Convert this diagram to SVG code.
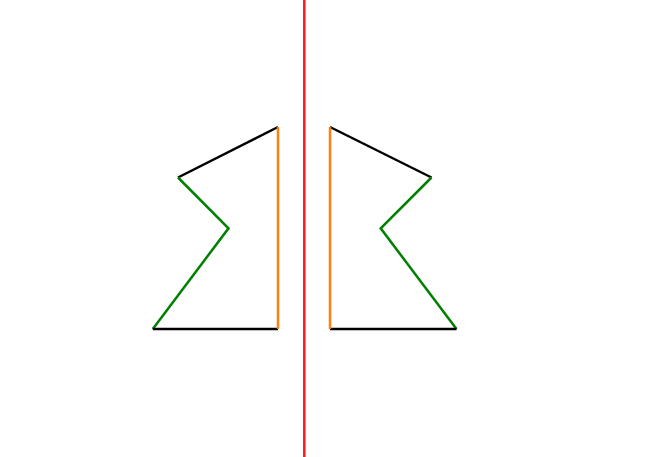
<svg xmlns="http://www.w3.org/2000/svg" width="660" height="457" viewBox="0 0 660 457">
<style>
line, polyline { fill: none; stroke-width: 2.5; stroke-linecap: butt; stroke-linejoin: miter; }
.k { stroke: #000000; }
.g { stroke: #008000; }
.o { stroke: #ff7f0e; }
.r { stroke: #ff1a1a; }
</style>
<rect width="660" height="457" fill="#ffffff"/>
<g id="axis">
<line class="r" x1="304.3" y1="0" x2="304.3" y2="457"/>
</g>
<g id="left-shape">
<line class="k" x1="278" y1="127" x2="178" y2="177.5"/>
<polyline class="g" points="178,177.5 228.5,228.3 152.8,329"/>
<line class="k" x1="152.8" y1="329" x2="278" y2="329"/>
<line class="o" x1="278" y1="127" x2="278" y2="329"/>
</g>
<g id="right-shape">
<line class="k" x1="330" y1="127" x2="431.5" y2="177.5"/>
<polyline class="g" points="431.5,177.5 380.7,228.3 456.5,329"/>
<line class="k" x1="456.5" y1="329" x2="330" y2="329"/>
<line class="o" x1="330" y1="127" x2="330" y2="329"/>
</g>
</svg>
